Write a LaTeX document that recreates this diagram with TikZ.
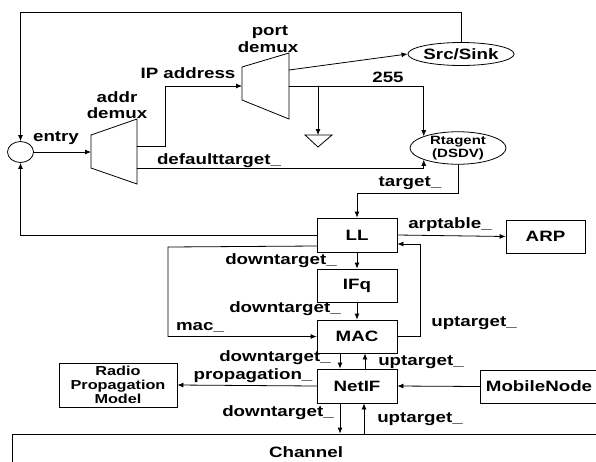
\documentclass[tikz,border=0pt]{standalone}
\usepackage{fontspec}
\setmainfont{Liberation Sans}[FakeStretch=1.25]
\usetikzlibrary{arrows.meta,shapes.geometric}

\begin{document}
\begin{tikzpicture}[x=1pt, y=-1pt, line width=0.8pt, line cap=round,
    every node/.style={font=\bfseries\fontsize{15}{16}\selectfont},
    blk/.style={draw, minimum width=80, minimum height=33, inner sep=0},
    oval/.style={draw, ellipse, inner sep=0},
    tag/.style={inner sep=0},
    sig/.style={-{Latex[length=6pt,width=5pt]}}]
  \useasboundingbox (0,0) rectangle (596,461);
  \clip (0,0) rectangle (596,461);
  % entry point and the two demuxes
  \node[oval, minimum width=26, minimum height=21] (entrypt) at (20.5,152) {};
  \draw (91,135) -- (137,119) -- (137,184) -- (91,168) -- cycle;
  \coordinate (addrin) at (91,152);
  \coordinate (addrip) at (137,146);
  \coordinate (addrdef) at (137,168);
  \coordinate (ipturn) at (165,146);
  \draw (242,67) -- (289,53) -- (289,119) -- (242,100) -- cycle;
  \coordinate (portin) at (242,86);
  \coordinate (portsrc) at (289,70);
  \coordinate (portbc) at (289,86);
  \node[tag] at (117,97) {addr};
  \node[tag] at (117,113) {demux};
  \node[tag] at (270,32) {port};
  \node[tag] at (268,47) {demux};
  % agents
  \node[oval, minimum width=88, minimum height=23] (srcsink) at (461,54) {Src/Sink};
  \node[oval, minimum width=96, minimum height=29, align=center,
        font=\bfseries\fontsize{12}{11}\selectfont] (rtagent) at (458,148) {Rtagent\\(DSDV)};
  \draw (305,135) -- (332,135) -- (318,147) -- cycle;
  \coordinate (nulltop) at (318,135);
  \coordinate (nullfork) at (318,86);
  % the stack
  \node[blk, minimum height=34] (ll) at (357,235) {LL};
  \node[blk, minimum width=79] (arp) at (545.5,236.5) {ARP};
  \node[blk] (ifq) at (357,285.5) {IFq};
  \node[blk] (mac) at (357,336.5) {MAC};
  \node[blk, minimum height=34] (netif) at (357,386) {NetIF};
  \node[blk, minimum width=118] (mobile) at (539,386.5) {MobileNode};
  \node[blk, minimum width=118, minimum height=44, align=center,
        font=\bfseries\fontsize{13}{14}\selectfont] (radio) at (118,385) {Radio\\Propagation\\Model};
  \node[blk, minimum width=588, minimum height=36] (channel) at (306,452) {Channel};
  % connectors
  \coordinate (toploop) at (20.5,12);
  \coordinate (tgtturn) at (357,193);
  \coordinate (macturn) at (168,247);
  \coordinate (upturn) at (420,244);
  \draw[sig] (entrypt.east) -- (addrin);
  \draw[sig] (addrip) -- (ipturn) |- (portin);
  \draw[sig] (portsrc) -- (srcsink.west);
  \draw[sig] (portbc) -| (rtagent.north west);
  \draw[sig] (nullfork) -- (nulltop);
  \draw[sig] (addrdef) -| (rtagent.south west);
  \draw[sig] (srcsink.north) |- (toploop) -- (entrypt.north);
  \draw[sig] (rtagent.south) |- (tgtturn) -- (ll.north);
  \draw[sig] (ll.west) -| (entrypt.south);
  \draw[sig] ([yshift=-11pt]ll.west) -- (macturn) |- (mac.west);
  \draw[sig] (ll.east) -- (arp.west);
  \draw[sig] (mac.east) -| (upturn) -- ([yshift=-9pt]ll.east);
  \draw[sig] (ll.south) -- (ifq.north);
  \draw[sig] (ifq.south) -- (mac.north);
  \draw[sig] ([xshift=-17pt]mac.south) -- ([xshift=-17pt]netif.north);
  \draw[sig] ([xshift=8pt]netif.north) -- ([xshift=8pt]mac.south);
  \draw[sig] ([xshift=-17pt]netif.south) -- ([xshift=-17pt]channel.north -| netif.south);
  \draw[sig] ([xshift=7pt]channel.north -| netif.south) -- ([xshift=7pt]netif.south);
  \draw[sig] (netif.west) -- (radio.east);
  \draw[sig] (mobile.west) -- (netif.east);
  % labels
  \node[tag] at (56,138) {entry};
  \node[tag] at (188,73) {IP address};
  \node[tag] at (388,77) {255};
  \node[tag] at (219,161) {defaulttarget\_};
  \node[tag] at (410,183) {target\_};
  \node[tag] at (450,225) {arptable\_};
  \node[tag] at (281,261) {downtarget\_};
  \node[tag] at (285,309) {downtarget\_};
  \node[tag] at (200,327) {mac\_};
  \node[tag] at (474,323) {uptarget\_};
  \node[tag] at (275,358) {downtarget\_};
  \node[tag] at (421,362) {uptarget\_};
  \node[tag] at (253,376) {propagation\_};
  \node[tag] at (278,413) {downtarget\_};
  \node[tag] at (420,419) {uptarget\_};
\end{tikzpicture}
\end{document}
